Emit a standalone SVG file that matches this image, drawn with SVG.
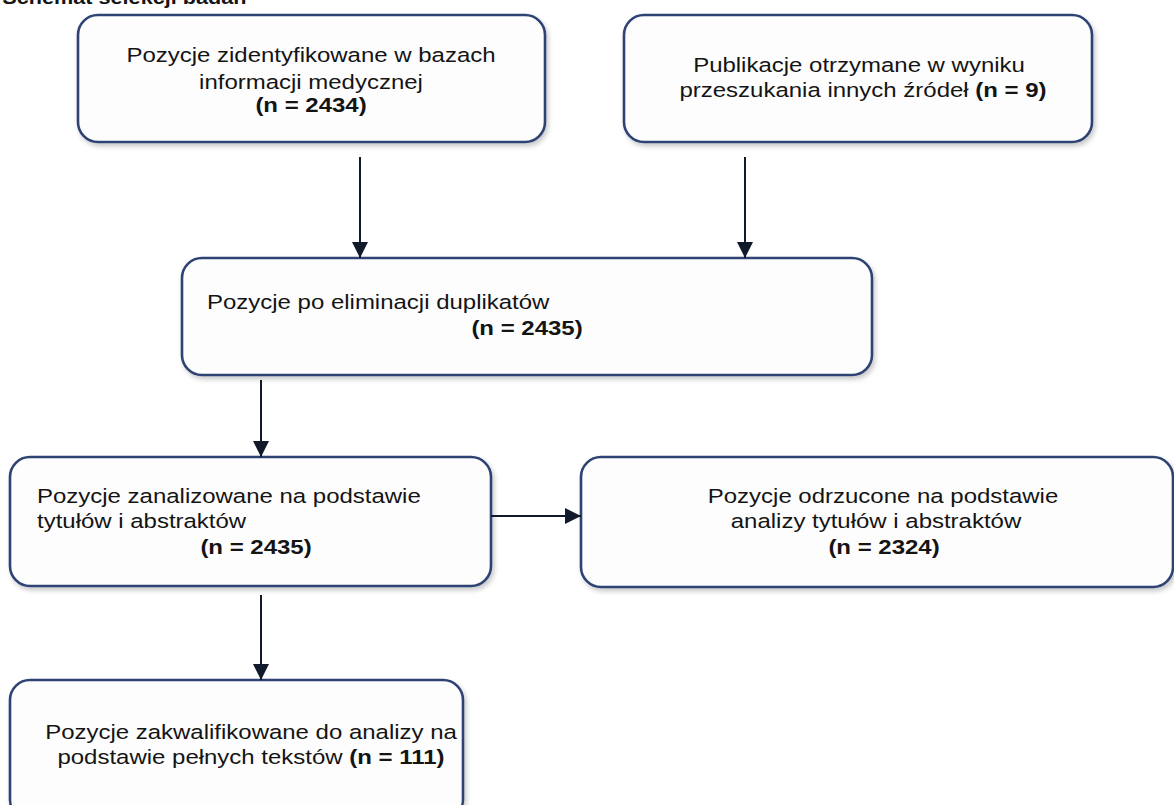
<svg xmlns="http://www.w3.org/2000/svg" width="1174" height="805" viewBox="0 0 1174 805">
  <defs>
    <style>
      .box { fill: #fdfdfd; stroke: #2e4373; stroke-width: 2.6; filter: url(#sh); }
      .t { font-family: "Liberation Sans", Arial, sans-serif; font-size: 20.5px; fill: #141414; }
      .b { font-weight: bold; }
      .c { text-anchor: middle; }
      .conn line { stroke: #111a2a; stroke-width: 2; marker-end: url(#ah); }
    </style>
    <filter id="sh" x="-5%" y="-10%" width="112%" height="130%">
      <feDropShadow dx="2" dy="3" stdDeviation="2.5" flood-color="#000" flood-opacity="0.22"/>
    </filter>
    <marker id="ah" markerWidth="16" markerHeight="16" viewBox="0 0 16 16" refX="16" refY="8" orient="auto" markerUnits="userSpaceOnUse">
      <path d="M0,0 L16,8 L0,16 Z" fill="#111a2a"/>
    </marker>
  </defs>

  <text class="t b" x="2" y="4" transform="scale(1.17 1)" style="font-size:18.5px">Schemat selekcji badań</text>

  <g id="n1">
    <rect class="box" x="78" y="15" width="467" height="127" rx="20"/>
    <text class="t c" transform="translate(311 0) scale(1.17 1)" x="0" y="62">Pozycje zidentyfikowane w bazach</text>
    <text class="t c" transform="translate(311 0) scale(1.17 1)" x="0" y="89">informacji medycznej</text>
    <text class="t c b" transform="translate(311 0) scale(1.17 1)" x="0" y="112">(n = 2434)</text>
  </g>

  <g id="n2">
    <rect class="box" x="624" y="15" width="468" height="127" rx="20"/>
    <text class="t c" transform="translate(859 0) scale(1.17 1)" x="0" y="72">Publikacje otrzymane w wyniku</text>
    <text class="t c" transform="translate(863 0) scale(1.17 1)" x="0" y="97">przeszukania innych źródeł <tspan class="b">(n = 9)</tspan></text>
  </g>

  <g id="n3">
    <rect class="box" x="182" y="258" width="690" height="117" rx="20"/>
    <text class="t" transform="translate(207 0) scale(1.17 1)" x="0" y="309">Pozycje po eliminacji duplikatów</text>
    <text class="t c b" transform="translate(527 0) scale(1.17 1)" x="0" y="335">(n = 2435)</text>
  </g>

  <g id="n4">
    <rect class="box" x="10" y="457" width="481" height="129" rx="20"/>
    <text class="t" transform="translate(37 0) scale(1.17 1)" x="0" y="503">Pozycje zanalizowane na podstawie</text>
    <text class="t" transform="translate(37 0) scale(1.17 1)" x="0" y="528">tytułów i abstraktów</text>
    <text class="t c b" transform="translate(256 0) scale(1.17 1)" x="0" y="554">(n = 2435)</text>
  </g>

  <g id="n5">
    <rect class="box" x="581" y="457" width="592" height="130" rx="20"/>
    <text class="t c" transform="translate(883 0) scale(1.17 1)" x="0" y="503">Pozycje odrzucone na podstawie</text>
    <text class="t c" transform="translate(876 0) scale(1.17 1)" x="0" y="528">analizy tytułów i abstraktów</text>
    <text class="t c b" transform="translate(884 0) scale(1.17 1)" x="0" y="554">(n = 2324)</text>
  </g>

  <g id="n6">
    <rect class="box" x="10" y="680" width="453" height="140" rx="20"/>
    <text class="t c" transform="translate(251 0) scale(1.17 1)" x="0" y="739">Pozycje zakwalifikowane do analizy na</text>
    <text class="t c" transform="translate(251 0) scale(1.17 1)" x="0" y="764">podstawie pełnych tekstów <tspan class="b">(n = 111)</tspan></text>
  </g>

  <g id="connectors" class="conn">
    <line x1="360" y1="157" x2="360" y2="258"/>
    <line x1="745" y1="157" x2="745" y2="258"/>
    <line x1="261" y1="380" x2="261" y2="457"/>
    <line x1="491" y1="516" x2="581" y2="516"/>
    <line x1="261" y1="595" x2="261" y2="680"/>
  </g>
</svg>
